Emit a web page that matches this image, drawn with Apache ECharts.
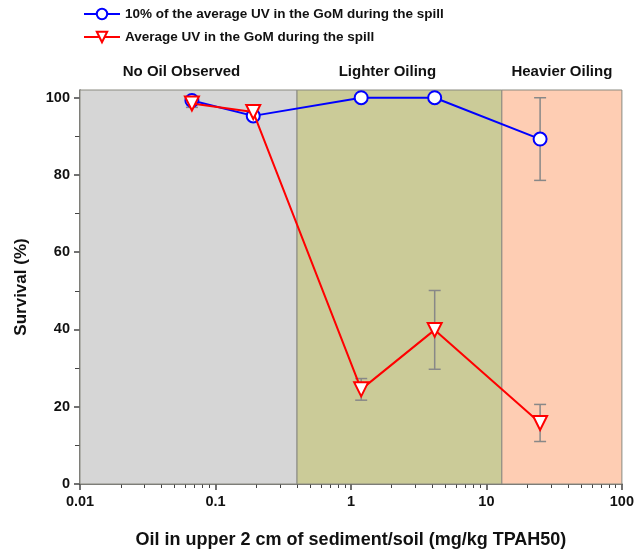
<!DOCTYPE html>
<html>
<head>
    <meta charset="UTF-8">
    <title>Survival vs oil</title>
    <script src="https://cdn.jsdelivr.net/npm/echarts@6/dist/echarts.min.js"></script>
    <style>
        html, body { margin: 0; padding: 0; background: #fff; }
        #chart { width: 637px; height: 554px; }
    </style>
</head>
<body>
<div id="chart"></div>
<script>
    // oil concentration (mg/kg TPAH50) and survival (%)
    const oilX = [0.067, 0.19, 1.19, 4.15, 24.9];
    const lowUv = [99.3, 95.3, 100, 100, 89.3];
    const lowUvErr = [0.8, 0.8, 0, 0, 10.7];
    const avgUv = [98.5, 96.3, 24.5, 39.9, 15.8];
    const avgUvErr = [1.0, 0.8, 2.8, 10.2, 4.8];

    const zoneEdges = [0.01, 0.4, 13, 100];
    const zoneNames = ['No Oil Observed', 'Lighter Oiling', 'Heavier Oiling'];
    const zoneColors = ['#d6d6d6', '#cbcb98', '#fecdb3'];
    const zoneLabelShift = [-7, -12, 0];

    const xMajor = [0.01, 0.1, 1, 10, 100];
    const xMinor = [];
    for (let d = 0.01; d < 100; d *= 10) {
        for (let k = 2; k <= 9; k++) xMinor.push(+(d * k).toPrecision(3));
    }
    const yMajor = [0, 20, 40, 60, 80, 100];
    const yMinor = [10, 30, 50, 70, 90];

    const seriesNames = ['10% of the average UV in the GoM during the spill', 'Average UV in the GoM during the spill'];

    const font = 'Liberation Sans, Arial, sans-serif';
    const axisColor = '#444';

    function pairs(ys) {
        return oilX.map((x, i) => [x, ys[i]]);
    }
    function errData(ys, errs) {
        return oilX.map((x, i) => [x, ys[i] - errs[i], ys[i] + errs[i]]);
    }

    function errorBars(ys, errs) {
        return {
            type: 'custom',
            z: 1,
            silent: true,
            data: errData(ys, errs),
            renderItem: function (params, api) {
                const lo = api.coord([api.value(0), api.value(1)]);
                const hi = api.coord([api.value(0), api.value(2)]);
                const cap = 6;
                const style = { stroke: '#888', lineWidth: 1.5 };
                return {
                    type: 'group',
                    children: [
                        { type: 'line', shape: { x1: lo[0], y1: lo[1], x2: hi[0], y2: hi[1] }, style: style },
                        { type: 'line', shape: { x1: lo[0] - cap, y1: lo[1], x2: lo[0] + cap, y2: lo[1] }, style: style },
                        { type: 'line', shape: { x1: hi[0] - cap, y1: hi[1], x2: hi[0] + cap, y2: hi[1] }, style: style }
                    ]
                };
            }
        };
    }

    const zones = zoneNames.map((name, i) => [
        {
            name: name,
            xAxis: zoneEdges[i],
            yAxis: 0,
            itemStyle: { color: zoneColors[i], borderColor: '#8a8a80', borderWidth: 1 },
            label: { offset: [zoneLabelShift[i], 0] }
        },
        { xAxis: zoneEdges[i + 1], yAxis: 102 }
    ]);

    const chart = echarts.init(document.getElementById('chart'));
    chart.setOption({
        animation: false,
        textStyle: { fontFamily: font },
        grid: { left: 80, right: 14, top: 90, bottom: 69 },
        legend: {
            orient: 'vertical',
            left: 78,
            top: 2,
            itemWidth: 36,
            itemHeight: 13,
            itemGap: 9,
            textStyle: { fontFamily: font, fontSize: 13.5, fontWeight: 'bold', color: '#111' },
            data: seriesNames
        },
        xAxis: [
            {
                type: 'log',
                logBase: 10,
                min: 0.01,
                max: 100,
                name: 'Oil in upper 2 cm of sediment/soil (mg/kg TPAH50)',
                nameLocation: 'middle',
                nameGap: 47,
                nameTextStyle: { fontFamily: font, fontSize: 18, fontWeight: 'bold', color: '#111' },
                axisLine: { onZero: false, lineStyle: { color: axisColor, width: 1.5 } },
                axisTick: { customValues: xMajor, length: 6, lineStyle: { color: axisColor, width: 1.5 } },
                axisLabel: {
                    customValues: xMajor,
                    margin: 10,
                    fontFamily: font, fontSize: 14.5, fontWeight: 'bold', color: '#111',
                    formatter: v => String(v)
                },
                splitLine: { show: false }
            },
            {
                type: 'log',
                logBase: 10,
                min: 0.01,
                max: 100,
                position: 'bottom',
                axisLine: { show: false },
                axisTick: { customValues: xMinor, length: 4, lineStyle: { color: axisColor, width: 1 } },
                axisLabel: { show: false },
                splitLine: { show: false }
            }
        ],
        yAxis: [
            {
                type: 'value',
                min: 0,
                max: 102,
                name: 'Survival (%)',
                nameLocation: 'middle',
                nameGap: 50,
                nameTextStyle: { fontFamily: font, fontSize: 17, fontWeight: 'bold', color: '#111' },
                axisLine: { show: true, lineStyle: { color: axisColor, width: 1.5 } },
                axisTick: { show: true, customValues: yMajor, length: 6, lineStyle: { color: axisColor, width: 1.5 } },
                axisLabel: {
                    customValues: yMajor,
                    margin: 10,
                    fontFamily: font, fontSize: 14.5, fontWeight: 'bold', color: '#111'
                },
                splitLine: { show: false }
            },
            {
                type: 'value',
                min: 0,
                max: 102,
                position: 'left',
                axisLine: { show: false },
                axisTick: { show: true, customValues: yMinor, length: 5, lineStyle: { color: axisColor, width: 1 } },
                axisLabel: { show: false },
                splitLine: { show: false }
            }
        ],
        series: [
            {
                name: 'zones',
                type: 'line',
                data: [],
                markArea: {
                    silent: true,
                    label: {
                        show: true,
                        position: 'top',
                        distance: 10,
                        fontFamily: font, fontSize: 15, fontWeight: 'bold', color: '#111'
                    },
                    data: zones
                }
            },
            errorBars(lowUv, lowUvErr),
            errorBars(avgUv, avgUvErr),
            {
                name: seriesNames[0],
                type: 'line',
                z: 3,
                data: pairs(lowUv),
                symbol: 'circle',
                symbolSize: 13,
                lineStyle: { color: '#0000ff', width: 2 },
                itemStyle: { color: '#fff', borderColor: '#0000ff', borderWidth: 2 }
            },
            {
                name: seriesNames[1],
                type: 'line',
                z: 4,
                data: pairs(avgUv),
                symbol: 'triangle',
                symbolRotate: 180,
                symbolSize: 14,
                lineStyle: { color: '#ff0000', width: 2 },
                itemStyle: { color: '#fff', borderColor: '#ff0000', borderWidth: 2 }
            }
        ]
    });
</script>
</body>
</html>
